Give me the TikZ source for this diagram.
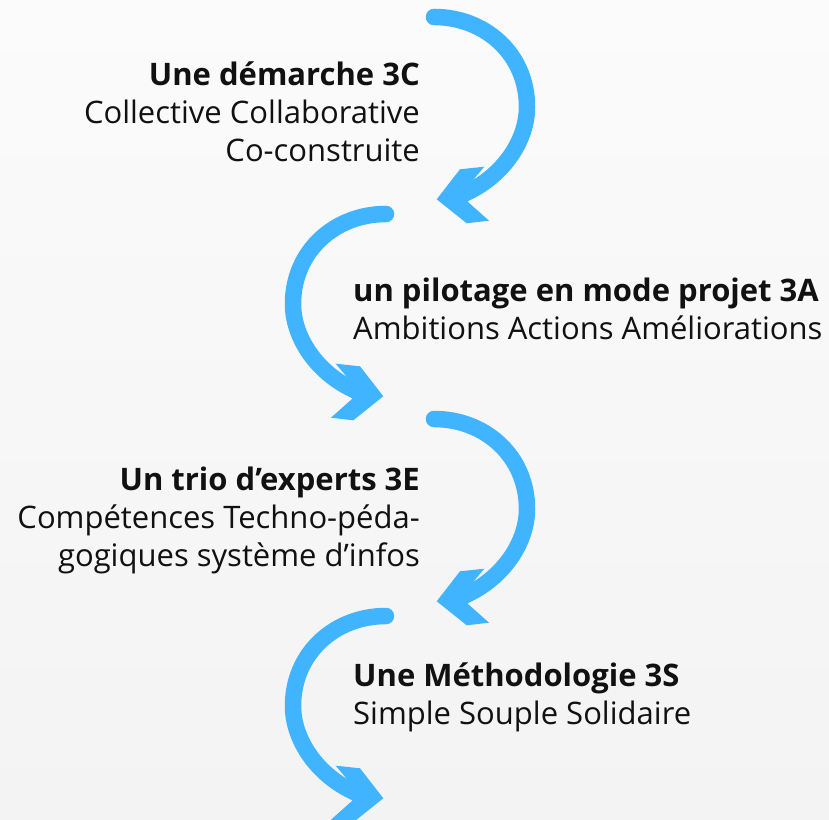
\documentclass[tikz,border=0pt]{standalone}
\usepackage{fontspec}
\setmainfont{Open Sans}
\definecolor{curlblue}{RGB}{64,180,255}
\definecolor{bgtop}{RGB}{251,251,251}
\definecolor{bgbottom}{RGB}{243,243,243}
\definecolor{inkblack}{RGB}{17,17,17}

\tikzset{
  curl/.pic={
    \draw[line width=16.5pt,curlblue,line cap=round]
      (0,0) .. controls (51,0) and (93,-37) .. (93,-90)
      .. controls (93,-122) and (71,-157) .. (34,-175) -- (28,-178);
    \fill[curlblue] (2.7,-182.3) -- (26,-152.3) -- (50.3,-149.7) -- (37.7,-164.7)
      -- (33.7,-184.7) -- (55,-203.7) -- (32.7,-206.3) -- cycle;
  }
}

\begin{document}
\begin{tikzpicture}[x=1pt,y=1pt,
    label/.style={font=\fontsize{31}{38}\selectfont,text=inkblack,inner sep=0pt}]

\shade[top color=bgtop,bottom color=bgbottom] (0,0) rectangle (829,819);
\useasboundingbox (0,0) rectangle (829,819);

% the four curls, going down
\pic (curlA) at (434,802) {curl};
\pic[xscale=-1] (curlB) at (386,605) {curl};
\pic (curlC) at (434,400) {curl};
\pic[xscale=-1] (curlD) at (386,203) {curl};

% base anchor sits on the last line
\node[label,align=right,anchor=base east] (demarche) at (420,657)
  {\textbf{Une démarche 3C}\\Collective Collaborative\\Co-construite};
\node[label,align=left,anchor=base west] (pilotage) at (353,479)
  {\textbf{un pilotage en mode projet 3A}\\Ambitions Actions Améliorations};
\node[label,align=right,anchor=base east] (trio) at (420,252)
  {\textbf{Un trio d’experts 3E}\\Compétences Techno-péda-\\gogiques système d’infos};
\node[label,align=left,anchor=base west] (methodo) at (353,95)
  {\textbf{Une Méthodologie 3S}\\Simple Souple Solidaire};
\end{tikzpicture}
\end{document}
